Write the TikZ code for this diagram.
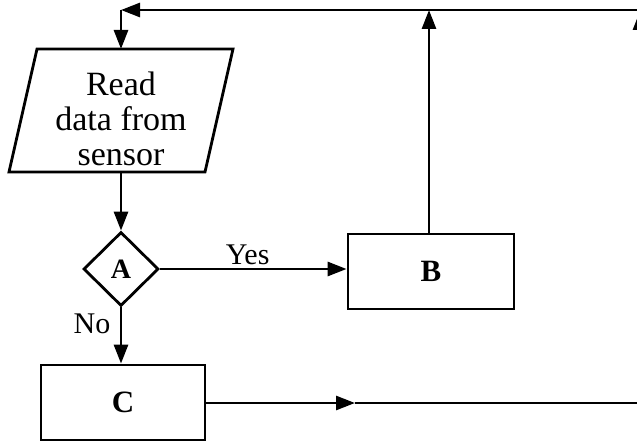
\documentclass[tikz,border=0pt]{standalone}
\usepackage{fontspec}
\setmainfont{Liberation Serif}
\usetikzlibrary{shapes.geometric,arrows.meta}
\begin{document}
\begin{tikzpicture}[x=1pt,y=-1pt,line width=2.8pt,line join=miter,
  box/.style={draw,rectangle,inner sep=0pt,font=\bfseries\fontsize{31}{31}\selectfont},
  dec/.style={draw,diamond,inner sep=0pt,minimum width=75pt,minimum height=74pt,font=\bfseries\fontsize{28}{28}\selectfont},
  arr/.style={-{Triangle[length=19pt,width=14pt]}},
  txt/.style={font=\fontsize{34}{35}\selectfont,align=center,inner sep=0pt},
  lbl/.style={font=\fontsize{30}{30}\selectfont,inner sep=3pt}]
\useasboundingbox (0,0) rectangle (637,443);
\clip (0,0) rectangle (637,443);
% parallelogram (input)
\coordinate (p1) at (37,49);
\coordinate (p2) at (233,49);
\coordinate (p3) at (205,172);
\coordinate (p4) at (9,172);
\draw (p1) -- (p2) -- (p3) -- (p4) -- cycle;
\node[txt] (read) at (121,119) {Read\\data from\\sensor};
\coordinate (ptop) at (121,49);
\coordinate (pbot) at (121,172);
% decision and boxes
\node[dec] (A) at (121,269) {A};
\node[box,minimum width=166pt,minimum height=75pt] (B) at (431,271.5) {B};
\node[box,minimum width=164pt,minimum height=75pt] (C) at (123,402.5) {C};
% connectors
\coordinate (tl) at (121,10);
\coordinate (tr) at (650,10);
\coordinate (btop) at (429,10);
\coordinate (cmid) at (355,403);
\coordinate (cr) at (640,403);
\coordinate (crt) at (640,11);
\draw[arr] (tr) -- (tl);
\draw[arr] (tl) -- (ptop);
\draw[arr] (pbot) -- (A.north);
\draw[arr] (A.east) -- node[lbl,above,pos=0.47] (yes) {Yes} (A.east -| B.west);
\draw[arr] (A.south) -- (A.south |- C.north);
\node[lbl] (no) at (92,324) {No};
\draw[arr] (B.north -| btop) -- (btop);
\draw[arr] (C.east |- cmid) -- (cmid);
\draw (cmid) -- (cr);
\draw[arr] (cr) -- (crt);
\end{tikzpicture}
\end{document}
